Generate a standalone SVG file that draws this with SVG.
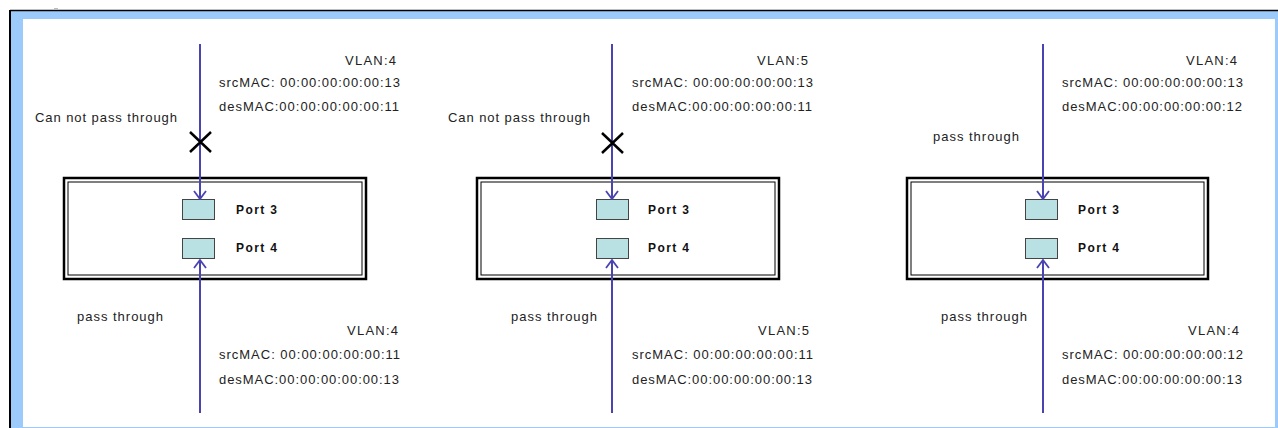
<svg xmlns="http://www.w3.org/2000/svg" width="1278" height="428" viewBox="0 0 1278 428">
  <style>
    .t { font-family: "Liberation Sans", Arial, sans-serif; font-size: 13px; fill: #222; }
    .p { font-family: "Liberation Sans", Arial, sans-serif; font-size: 12px; font-weight: bold; fill: #111; }
    .box-o { fill: #fff; stroke: #000; stroke-width: 2.5; }
    .box-i { fill: none; stroke: #000; stroke-width: 1; }
    .port { fill: #b9e0e2; stroke: #444; stroke-width: 1; }
    .arr { stroke: #4a44b2; stroke-width: 2; fill: none; }
    .x { stroke: #000; stroke-width: 2.5; }
  </style>
  <defs>
    <marker id="ah" viewBox="0 0 10 14" refX="9" refY="7" markerWidth="10" markerHeight="14" markerUnits="userSpaceOnUse" orient="auto">
      <path d="M1,1 L9,7 L1,13" fill="none" stroke="#4a44b2" stroke-width="1.8"/>
    </marker>
  </defs>
  <!-- frame -->
  <rect x="0" y="0" width="1278" height="428" fill="#fff"/>
  <rect x="10" y="11" width="1268" height="417" fill="#9ccbfb"/>
  <line x1="10" y1="10.5" x2="1278" y2="10.5" stroke="#000" stroke-width="1.5"/>
  <line x1="10" y1="10" x2="10" y2="428" stroke="#000" stroke-width="2"/>
  <rect x="23" y="19" width="1252" height="408" fill="#fff"/>
  <line x1="54" y1="8.5" x2="58" y2="8.5" stroke="#bbb" stroke-width="1"/>

  <!-- Panel 1 -->
  <g id="switch1">
    <rect class="box-o" x="64" y="178" width="302" height="101"/>
    <rect class="box-i" x="68" y="182" width="294" height="93"/>
    <rect class="port" x="182.5" y="199.5" width="32" height="20"/>
    <rect class="port" x="182.5" y="238.5" width="32" height="20"/>
    <text class="p" x="236" y="214" textLength="41" lengthAdjust="spacing">Port 3</text>
    <text class="p" x="236" y="252" textLength="41" lengthAdjust="spacing">Port 4</text>
  </g>
  <g id="labels1">
    <text class="t" x="396" y="65" text-anchor="end" textLength="51" lengthAdjust="spacing">VLAN:4</text>
    <text class="t" x="219" y="87" textLength="181" lengthAdjust="spacing">srcMAC: 00:00:00:00:00:13</text>
    <text class="t" x="219" y="111" textLength="180" lengthAdjust="spacing">desMAC:00:00:00:00:00:11</text>
    <text class="t" x="35" y="122" textLength="142" lengthAdjust="spacing">Can not pass through</text>
    <text class="t" x="77" y="321" textLength="86" lengthAdjust="spacing">pass through</text>
    <text class="t" x="398" y="335" text-anchor="end" textLength="51" lengthAdjust="spacing">VLAN:4</text>
    <text class="t" x="219" y="359" textLength="181" lengthAdjust="spacing">srcMAC: 00:00:00:00:00:11</text>
    <text class="t" x="219" y="384" textLength="180" lengthAdjust="spacing">desMAC:00:00:00:00:00:13</text>
  </g>

  <!-- Panel 2 -->
  <g id="switch2">
    <rect class="box-o" x="477" y="178" width="302" height="101"/>
    <rect class="box-i" x="481" y="182" width="294" height="93"/>
    <rect class="port" x="596.5" y="199.5" width="32" height="20"/>
    <rect class="port" x="596.5" y="238.5" width="32" height="20"/>
    <text class="p" x="648" y="214" textLength="41" lengthAdjust="spacing">Port 3</text>
    <text class="p" x="648" y="252" textLength="41" lengthAdjust="spacing">Port 4</text>
  </g>
  <g id="labels2">
    <text class="t" x="808" y="65" text-anchor="end" textLength="51" lengthAdjust="spacing">VLAN:5</text>
    <text class="t" x="632" y="87" textLength="181" lengthAdjust="spacing">srcMAC: 00:00:00:00:00:13</text>
    <text class="t" x="632" y="111" textLength="180" lengthAdjust="spacing">desMAC:00:00:00:00:00:11</text>
    <text class="t" x="448" y="122" textLength="142" lengthAdjust="spacing">Can not pass through</text>
    <text class="t" x="511" y="321" textLength="86" lengthAdjust="spacing">pass through</text>
    <text class="t" x="809" y="335" text-anchor="end" textLength="51" lengthAdjust="spacing">VLAN:5</text>
    <text class="t" x="632" y="359" textLength="181" lengthAdjust="spacing">srcMAC: 00:00:00:00:00:11</text>
    <text class="t" x="632" y="384" textLength="180" lengthAdjust="spacing">desMAC:00:00:00:00:00:13</text>
  </g>

  <!-- Panel 3 -->
  <g id="switch3">
    <rect class="box-o" x="907" y="178" width="301" height="101"/>
    <rect class="box-i" x="911" y="182" width="293" height="93"/>
    <rect class="port" x="1025.5" y="199.5" width="32" height="20"/>
    <rect class="port" x="1025.5" y="238.5" width="32" height="20"/>
    <text class="p" x="1078" y="214" textLength="41" lengthAdjust="spacing">Port 3</text>
    <text class="p" x="1078" y="252" textLength="41" lengthAdjust="spacing">Port 4</text>
  </g>
  <g id="labels3">
    <text class="t" x="1237" y="65" text-anchor="end" textLength="51" lengthAdjust="spacing">VLAN:4</text>
    <text class="t" x="1062" y="87" textLength="181" lengthAdjust="spacing">srcMAC: 00:00:00:00:00:13</text>
    <text class="t" x="1062" y="111" textLength="180" lengthAdjust="spacing">desMAC:00:00:00:00:00:12</text>
    <text class="t" x="933" y="141" textLength="86" lengthAdjust="spacing">pass through</text>
    <text class="t" x="941" y="321" textLength="86" lengthAdjust="spacing">pass through</text>
    <text class="t" x="1239" y="335" text-anchor="end" textLength="51" lengthAdjust="spacing">VLAN:4</text>
    <text class="t" x="1062" y="359" textLength="181" lengthAdjust="spacing">srcMAC: 00:00:00:00:00:12</text>
    <text class="t" x="1062" y="384" textLength="180" lengthAdjust="spacing">desMAC:00:00:00:00:00:13</text>
  </g>

  <!-- connectors -->
  <g id="connectors">
    <line class="arr" x1="200" y1="44" x2="200" y2="199" marker-end="url(#ah)"/>
    <line class="arr" x1="200" y1="413" x2="200" y2="260" marker-end="url(#ah)"/>
    <line class="arr" x1="612" y1="44" x2="612" y2="199" marker-end="url(#ah)"/>
    <line class="arr" x1="612" y1="413" x2="612" y2="260" marker-end="url(#ah)"/>
    <line class="arr" x1="1043" y1="44" x2="1043" y2="199" marker-end="url(#ah)"/>
    <line class="arr" x1="1043" y1="413" x2="1043" y2="260" marker-end="url(#ah)"/>
  </g>
  <g id="blocks">
    <path class="x" d="M190,132 L211,152 M211,132 L190,152"/>
    <path class="x" d="M602,133 L623,153 M623,133 L602,153"/>
  </g>
</svg>
